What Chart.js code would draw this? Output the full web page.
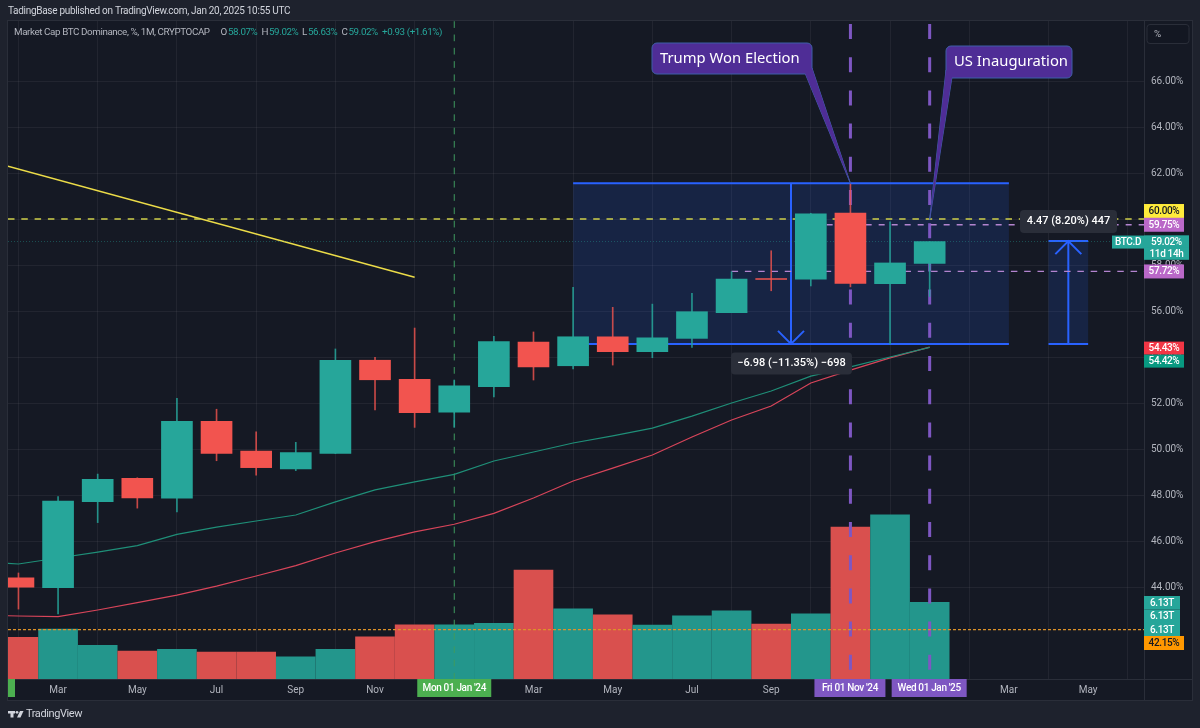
<!DOCTYPE html>
<html>
<head>
<meta charset="utf-8">
<title>BTC Dominance</title>
<style>
  html, body { margin: 0; padding: 0; background: #1e222d; }
  canvas { display: block; }
</style>
<script src="https://cdn.jsdelivr.net/npm/chart.js@4/dist/chart.umd.min.js"></script>
</head>
<body>
<canvas id="chart" width="1200" height="728"></canvas>
<script>
// ─── Data ───
const months = ["Feb","Mar","Apr","May","Jun","Jul","Aug","Sep","Oct","Nov","Dec","Jan","Feb","Mar","Apr","May","Jun","Jul","Aug","Sep","Oct","Nov","Dec","Jan"];
const opens  = [44.40,43.97,47.71,48.73,47.86,51.20,49.91,49.13,49.81,53.86,53.03,51.60,52.71,54.65,53.62,54.88,54.23,54.81,55.93,57.41,57.38,60.26,57.19,58.07];
const highs  = [44.61,47.93,48.91,48.75,52.20,51.73,50.75,50.29,54.35,53.99,55.26,53.00,54.90,55.09,57.03,56.16,56.30,56.77,57.71,58.62,60.25,61.52,59.88,59.02];
const lows   = [43.04,42.83,46.80,47.43,47.27,49.49,48.86,49.06,49.80,51.70,50.94,50.94,52.27,53.00,53.48,53.65,53.97,54.42,55.93,56.88,57.09,57.05,54.57,56.63];
const closes = [43.99,47.74,48.68,47.87,51.20,49.81,49.19,49.84,53.86,53.01,51.58,52.75,54.67,53.57,54.88,54.23,54.83,55.97,57.39,57.37,60.23,57.20,58.09,59.02];
const volumes = [3.33,4.00,2.69,2.24,2.37,2.16,2.16,1.78,2.37,3.38,4.34,4.34,4.45,8.71,5.60,5.12,4.32,5.04,5.44,4.40,5.20,12.15,13.13,6.13];
const maFast = [45.00,45.26,45.52,45.80,46.29,46.60,46.87,47.13,47.70,48.22,48.57,48.90,49.48,49.87,50.26,50.57,50.91,51.43,52.00,52.52,53.17,53.57,54.00,54.42];
const maSlow = [42.74,42.71,43.00,43.32,43.65,44.04,44.48,44.93,45.48,45.97,46.40,46.73,47.20,47.87,48.61,49.17,49.74,50.52,51.26,51.87,52.87,53.43,53.96,54.43];
// averages one month before the first visible candle
const maFastPrior = 45.10;
const maSlowPrior = 42.78;

const priceTicks = [44,46,48,50,52,54,56,58,60,62,64,66];
const timeTicks  = [1,3,5,7,9,11,13,15,17,19,21,23,25,27];
const timeLabels = ["Mar","May","Jul","Sep","Nov","","Mar","May","Jul","Sep","","","Mar","May"];

const trendX = [-0.264, 10];
const trendY = [62.30, 57.47];

// drawn levels and ranges
const X_MIN = -0.264, X_MAX = 28.41;
const NOV_24 = 21, JAN_24 = 11, JAN_25 = 23;
const RANGE_A = { from: 14, to: 25, top: 61.55, bottom: 54.57 };
const RANGE_B = { from: 26, to: 27, top: 59.04, bottom: 54.57 };

// ─── Colours ───
const UP = "#26a69a", DOWN = "#f2544f";
const VOL_UP = "#23968c", VOL_DOWN = "#d9504e";
const BLUE = "#2962ff", PURPLE = "#7e57c2", PINK = "#b384cf";
const FONT = '"Noto Sans", sans-serif';
const SMALL = 'Roboto, sans-serif';

// ─── Helpers ───
function levelLine(y, from, to, color, dash, width) {
  return {
    type: "line", order: 4, yAxisID: "y",
    data: [{ x: from, y: y }, { x: to, y: y }],
    borderColor: color, borderDash: dash, borderWidth: width, pointRadius: 0
  };
}
function timeLine(x, top, color, dash, width) {
  return {
    type: "line", order: 4, yAxisID: "y",
    data: [{ x: x, y: top }, { x: x, y: 40 }],
    borderColor: color, borderDash: dash, borderWidth: width, pointRadius: 0
  };
}
function isUp(i) { return closes[i] >= opens[i]; }

function tag(ctx, x0, y0, x1, y1, bg, fg, text, size) {
  ctx.fillStyle = bg;
  ctx.fillRect(x0, y0, x1 - x0, y1 - y0);
  ctx.fillStyle = fg;
  ctx.font = "500 " + (size || 10) + "px " + SMALL;
  ctx.textAlign = "center";
  ctx.textBaseline = "middle";
  ctx.letterSpacing = "-0.35px";
  ctx.fillText(text, (x0 + x1) / 2, (y0 + y1) / 2 + 0.5);
  ctx.letterSpacing = "0px";
}

function roundRect(ctx, x0, y0, x1, y1, r) {
  ctx.beginPath();
  ctx.roundRect(x0, y0, x1 - x0, y1 - y0, r);
}

function callout(ctx, x0, y0, x1, y1, tail, text) {
  ctx.fillStyle = "#4f2d96";
  ctx.strokeStyle = "#3f5fa8";
  ctx.lineWidth = 1;
  ctx.beginPath();
  ctx.moveTo(tail[0][0], tail[0][1]);
  ctx.lineTo(tail[1][0], tail[1][1]);
  ctx.lineTo(tail[2][0], tail[2][1]);
  ctx.closePath();
  ctx.fill();
  ctx.stroke();
  roundRect(ctx, x0, y0, x1, y1, 5);
  ctx.fill();
  ctx.stroke();
  // hide the seam between bubble and tail
  ctx.beginPath();
  ctx.moveTo(tail[0][0], tail[0][1]);
  ctx.lineTo(tail[1][0], tail[1][1]);
  ctx.lineTo(tail[2][0], tail[2][1]);
  ctx.closePath();
  ctx.fill();
  ctx.fillStyle = "#ffffff";
  ctx.font = "14.8px " + FONT;
  ctx.textAlign = "left";
  ctx.textBaseline = "middle";
  ctx.fillText(text, x0 + 8, (y0 + y1) / 2);
}

function rangeBox(ctx, xs, ys, r) {
  const x0 = xs.getPixelForValue(r.from), x1 = xs.getPixelForValue(r.to);
  const y0 = ys.getPixelForValue(r.top), y1 = ys.getPixelForValue(r.bottom);
  ctx.fillStyle = "rgba(41,98,255,0.15)";
  ctx.fillRect(x0, y0, x1 - x0, y1 - y0);
  ctx.strokeStyle = BLUE;
  ctx.lineWidth = 2;
  ctx.beginPath();
  ctx.moveTo(x0, y0); ctx.lineTo(x1, y0);
  ctx.moveTo(x0, y1); ctx.lineTo(x1, y1);
  const mid = (x0 + x1) / 2;
  ctx.moveTo(mid, y0); ctx.lineTo(mid, y1);
  ctx.stroke();
}

function arrowHead(ctx, x, y, dir) {
  ctx.strokeStyle = BLUE;
  ctx.lineWidth = 2;
  ctx.beginPath();
  ctx.moveTo(x - 13, y + dir * 13);
  ctx.lineTo(x, y);
  ctx.lineTo(x + 13, y + dir * 13);
  ctx.stroke();
}

// ─── Frame, page text and ranges under the marks ───
const underlay = {
  id: "underlay",
  beforeDraw(chart) {
    const ctx = chart.ctx;
    const { left, right, top, bottom } = chart.chartArea;
    ctx.save();
    ctx.fillStyle = "#1e222d";
    ctx.fillRect(0, 0, 1200, 728);
    ctx.fillStyle = "#151924";
    ctx.fillRect(left, top, 1192 - left, 700 - top);
    ctx.strokeStyle = "#2a2e39";
    ctx.lineWidth = 1;
    ctx.strokeRect(left - 0.5, top - 0.5, 1192 - left + 1, 700 - top + 1);
    ctx.beginPath();
    ctx.moveTo(right + 0.5, top); ctx.lineTo(right + 0.5, 700);
    ctx.moveTo(left, bottom + 0.5); ctx.lineTo(1192, bottom + 0.5);
    ctx.stroke();

    // publish line
    ctx.fillStyle = "#d1d4dc";
    ctx.font = "10px " + SMALL;
    ctx.letterSpacing = "-0.3px";
    ctx.textAlign = "left";
    ctx.textBaseline = "middle";
    ctx.fillText("TadingBase published on TradingView.com, Jan 20, 2025 10:55 UTC", 8, 11.5);

    // footer logo
    ctx.fillStyle = "#d1d4dc";
    ctx.fillRect(8, 711, 7, 2.5);
    ctx.fillRect(10.5, 711, 3, 6.5);
    ctx.beginPath();
    ctx.arc(17, 712.3, 1.4, 0, Math.PI * 2);
    ctx.fill();
    ctx.beginPath();
    ctx.moveTo(20, 711); ctx.lineTo(23.5, 711); ctx.lineTo(20.5, 717.5); ctx.lineTo(17, 717.5);
    ctx.closePath();
    ctx.fill();
    ctx.font = "11px " + SMALL;
    ctx.letterSpacing = "-0.4px";
    ctx.fillText("TradingView", 26, 714.5);
    ctx.letterSpacing = "0px";
    ctx.restore();
  },
  beforeDatasetsDraw(chart) {
    const ctx = chart.ctx, xs = chart.scales.x, ys = chart.scales.y;
    ctx.save();
    rangeBox(ctx, xs, ys, RANGE_A);
    rangeBox(ctx, xs, ys, RANGE_B);
    ctx.restore();
  }
};

// ─── Labels above the marks ───
const overlay = {
  id: "overlay",
  afterDatasetsDraw(chart) {
    const ctx = chart.ctx, xs = chart.scales.x, ys = chart.scales.y;
    const px = v => xs.getPixelForValue(v), py = v => ys.getPixelForValue(v);
    const axisX = chart.chartArea.right;
    ctx.save();

    // arrows of the two ranges
    arrowHead(ctx, px((RANGE_A.from + RANGE_A.to) / 2), py(RANGE_A.bottom), -1);
    arrowHead(ctx, px((RANGE_B.from + RANGE_B.to) / 2), py(RANGE_B.top), 1);

    // symbol legend
    ctx.font = "9.8px " + SMALL;
    ctx.letterSpacing = "-0.4px";
    ctx.textAlign = "left";
    ctx.textBaseline = "middle";
    const legend = [
      ["Market Cap BTC Dominance, %, 1M, CRYPTOCAP", 14, "#b2b5be"],
      ["O", 220.5, "#b2b5be"], ["58.07%", 228, UP],
      ["H", 261.5, "#b2b5be"], ["59.02%", 269, UP],
      ["L", 302, "#b2b5be"], ["56.63%", 308, UP],
      ["C", 341.5, "#b2b5be"], ["59.02%", 348.5, UP],
      ["+0.93 (+1.61%)", 382, UP]
    ];
    legend.forEach(l => {
      ctx.fillStyle = l[2];
      ctx.fillText(l[0], l[1], 33);
    });
    ctx.letterSpacing = "0px";

    // percent button
    ctx.fillStyle = "#131722";
    ctx.strokeStyle = "#2a2e39";
    ctx.lineWidth = 1;
    roundRect(ctx, 1147, 24.5, 1189, 43.5, 3);
    ctx.fill();
    ctx.stroke();
    ctx.fillStyle = "#b2b5be";
    ctx.fillText("%", 1154, 34.5);

    // callouts
    const tipA = [px(NOV_24), py(61.55)], tipB = [px(JAN_25), py(59.98)];
    callout(ctx, 652, 43, 812, 74, [[805, 73], [812, 68], tipA], "Trump Won Election");
    callout(ctx, 946, 46, 1072, 78, [[946, 70], [952, 77], tipB], "US Inauguration");

    // measure labels
    ctx.fillStyle = "#2a2e39";
    roundRect(ctx, 731, 352.5, 852, 374.5, 4);
    ctx.fill();
    roundRect(ctx, 1020, 210, 1117, 233, 4);
    ctx.fill();
    ctx.fillStyle = "#ffffff";
    ctx.font = "500 11px " + SMALL;
    ctx.textAlign = "center";
    ctx.fillText("\u22126.98 (\u221211.35%) \u2212698", 791.5, 363.5);
    ctx.fillText("4.47 (8.20%) 447", 1068.5, 221.5);

    // price tags on the axis
    const tagRight = axisX + 40;
    tag(ctx, axisX, py(60) - 15, tagRight, py(60) - 1, "#ffeb3b", "#131722", "60.00%");
    tag(ctx, axisX, py(59.75) - 7, tagRight, py(59.75) + 7, "#ba68c8", "#ffffff", "59.75%");
    tag(ctx, axisX - 32, py(59.02) - 6, axisX, py(59.02) + 7, UP, "#ffffff", "BTC.D");
    tag(ctx, axisX, py(59.02) - 6, axisX + 45, py(59.02) + 18, UP, "#ffffff", "");
    tag(ctx, axisX, py(59.02) - 6, axisX + 45, py(59.02) + 7, UP, "#ffffff", "59.02%");
    tag(ctx, axisX, py(59.02) + 6, axisX + 45, py(59.02) + 18, UP, "#ffffff", "11d 14h");
    tag(ctx, axisX, py(57.72) - 7, tagRight, py(57.72) + 7, "#ba68c8", "#ffffff", "57.72%");
    tag(ctx, axisX, py(54.43) - 5.5, tagRight, py(54.43) + 7.5, "#f23645", "#ffffff", "54.43%");
    tag(ctx, axisX, py(54.43) + 7.5, tagRight, py(54.43) + 20.5, "#089981", "#ffffff", "54.42%");
    tag(ctx, axisX, 596, axisX + 36, 609.5, UP, "#ffffff", "6.13T");
    tag(ctx, axisX, 609.5, axisX + 36, 623, UP, "#ffffff", "6.13T");
    tag(ctx, axisX, 623, axisX + 36, 636, UP, "#ffffff", "6.13T");
    tag(ctx, axisX, 636, tagRight, 650, "#ff9800", "#131722", "42.15%");

    // crosshair style date tags
    const axisY = chart.chartArea.bottom;
    tag(ctx, chart.chartArea.left, axisY, chart.chartArea.left + 7, axisY + 18, "#4caf50", "#fff", "");
    tag(ctx, px(JAN_24) - 37, axisY, px(JAN_24) + 37, axisY + 18, "#4caf50", "#ffffff", "Mon 01 Jan '24");
    tag(ctx, px(NOV_24) - 36, axisY, px(NOV_24) + 35, axisY + 18, PURPLE, "#ffffff", "Fri 01 Nov '24");
    tag(ctx, px(JAN_25) - 38, axisY, px(JAN_25) + 37, axisY + 18, PURPLE, "#ffffff", "Wed 01 Jan '25");
    ctx.restore();
  }
};

// ─── Chart ───
const datasets = [
  { type: "bar", label: "Volume", order: 6, yAxisID: "yVol", barThickness: 39,
    data: months.map((_, i) => ({ x: i, y: volumes[i] })),
    backgroundColor: months.map((_, i) => isUp(i) ? VOL_UP : VOL_DOWN) },
  levelLine(60, X_MIN, X_MAX, "#cfcf4a", [6.5, 6.8], 1.4),
  levelLine(59.75, 20.4, X_MAX, PINK, [6, 7], 1.3),
  levelLine(59.02, X_MIN, X_MAX, "rgba(38,166,154,0.4)", [1, 2], 1),
  levelLine(57.72, 18, X_MAX, PINK, [6.5, 6.8], 1.3),
  levelLine(42.15, X_MIN, X_MAX, "#dd9229", [3, 2], 1.2),
  timeLine(JAN_24, 68.6, "#3f9a5f", [6.7, 6.6], 1),
  timeLine(NOV_24, 68.48, PURPLE, [15, 18.2], 3),
  timeLine(JAN_25, 68.48, PURPLE, [15, 18.2], 3),
  { type: "line", label: "Trend", order: 4, yAxisID: "y",
    data: trendX.map((x, i) => ({ x: x, y: trendY[i] })),
    borderColor: "#ecdc48", borderWidth: 1.5, pointRadius: 0 },
  { type: "line", label: "MA fast", order: 3, yAxisID: "y",
    data: [{ x: -1, y: maFastPrior }].concat(months.map((_, i) => ({ x: i, y: maFast[i] }))),
    borderColor: "#1f8f78", borderWidth: 1.2, pointRadius: 0 },
  { type: "line", label: "MA slow", order: 3, yAxisID: "y",
    data: [{ x: -1, y: maSlowPrior }].concat(months.map((_, i) => ({ x: i, y: maSlow[i] }))),
    borderColor: "#d8455a", borderWidth: 1.2, pointRadius: 0 },
  { type: "bar", label: "Wick", order: 2, yAxisID: "y", barThickness: 1,
    data: months.map((_, i) => ({ x: i, y: [lows[i], highs[i]] })),
    backgroundColor: months.map((_, i) => isUp(i) ? "rgba(38,166,154,0.85)" : "rgba(242,84,79,0.8)") },
  { type: "bar", label: "Body", order: 1, yAxisID: "y", barThickness: 31,
    data: months.map((_, i) => ({ x: i, y: [opens[i], closes[i]] })),
    backgroundColor: months.map((_, i) => isUp(i) ? UP : DOWN) }
];

new Chart(document.getElementById("chart"), {
  type: "bar",
  data: { datasets: datasets },
  plugins: [underlay, overlay],
  options: {
    responsive: false,
    animation: false,
    events: [],
    layout: { padding: { left: 8, right: 8, top: 21, bottom: 28 } },
    datasets: { bar: { grouped: false } },
    plugins: { legend: { display: false }, tooltip: { enabled: false } },
    scales: {
      x: {
        type: "linear", min: X_MIN, max: X_MAX, offset: false,
        afterBuildTicks: s => { s.ticks = timeTicks.map(v => ({ value: v })); },
        afterFit: s => { s.height = 21; },
        grid: { color: "rgba(120,123,134,0.13)", drawTicks: false },
        border: { display: false },
        ticks: {
          autoSkip: false, maxRotation: 0, padding: 5,
          color: "#b2b5be", font: { family: SMALL, size: 10 },
          callback: v => timeLabels[timeTicks.indexOf(v)] || ""
        }
      },
      y: {
        position: "right", min: 40, max: 68.61,
        afterBuildTicks: s => { s.ticks = priceTicks.map(v => ({ value: v })); },
        afterFit: s => { s.width = 48; },
        grid: { color: "rgba(120,123,134,0.13)", drawTicks: false },
        border: { display: false },
        ticks: {
          padding: 7, color: "#b2b5be", font: { family: SMALL, size: 10 },
          callback: v => v.toFixed(2) + "%"
        }
      },
      yVol: { display: false, min: 0, max: 52.6 }
    }
  }
});
</script>
</body>
</html>
